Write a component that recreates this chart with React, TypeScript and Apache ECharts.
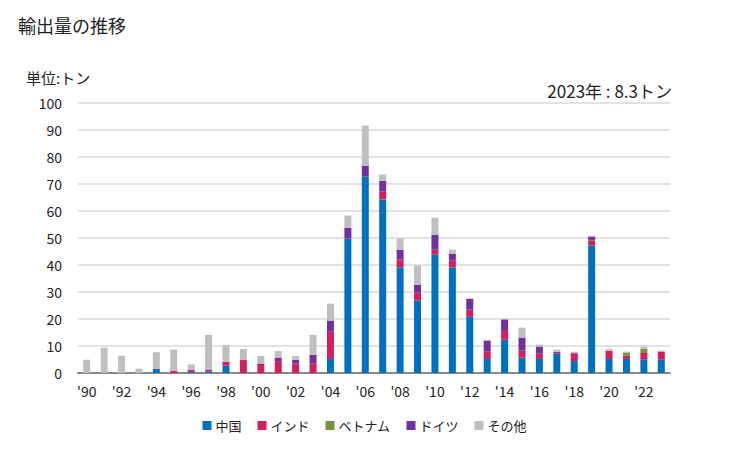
import React, { useEffect, useRef } from "react";
import * as echarts from "echarts";

const years = [
  "'90", "'91", "'92", "'93", "'94", "'95", "'96", "'97", "'98", "'99",
  "'00", "'01", "'02", "'03", "'04", "'05", "'06", "'07", "'08", "'09",
  "'10", "'11", "'12", "'13", "'14", "'15", "'16", "'17", "'18", "'19",
  "'20", "'21", "'22", "'23",
];

const china = [
  0, 0, 0, 0, 1.6, 0, 0.4, 0.6, 2.7, 0,
  0, 0, 0, 0, 5.2, 49.8, 72.7, 64.3, 39.1, 26.8,
  43.8, 39.1, 20.8, 5.2, 12.3, 5.7, 5.2, 7.3, 4.4, 47.2,
  5.2, 5.2, 4.9, 4.9,
];
const india = [
  0, 0, 0, 0, 0, 0.8, 0.8, 0.7, 1.4, 4.8,
  3.0, 4.4, 3.5, 3.5, 10.1, 0, 0, 2.9, 3.0, 3.0,
  1.9, 2.5, 2.7, 2.7, 3.3, 2.6, 2.0, 0.6, 2.9, 1.7,
  3.0, 1.2, 2.5, 2.9,
];
const vietnam = [
  0, 0, 0, 0, 0, 0, 0, 0, 0, 0,
  0, 0, 0, 0, 0, 0, 0, 0, 0, 0,
  0, 0, 0, 0, 0, 0, 0, 0, 0, 0.4,
  0, 1.1, 1.5, 0.2,
];
const germany = [
  0, 0, 0, 0, 0, 0, 0, 0, 0, 0,
  0.5, 1.3, 1.4, 3.2, 4.1, 4.0, 4.1, 4.0, 3.6, 2.9,
  5.5, 2.6, 4.0, 4.1, 4.2, 4.8, 2.6, 0, 0.2, 1.2,
  0, 0, 0, 0,
];
const others = [
  4.9, 9.4, 6.4, 1.6, 6.1, 7.9, 2.0, 12.8, 6.3, 4.1,
  2.8, 2.4, 1.4, 7.4, 6.3, 4.5, 14.8, 2.3, 4.1, 7.2,
  6.3, 1.5, 0, 0.3, 0, 3.7, 0.7, 0.7, 0.4, 0.4,
  0.7, 0.4, 0.9, 0.3,
];

const seriesNames = ["中国", "インド", "ベトナム", "ドイツ", "その他"];
const seriesColors = ["#0070c0", "#d41f5f", "#76923c", "#7030a0", "#bfbfbf"];
const yTicks = [0, 10, 20, 30, 40, 50, 60, 70, 80, 90, 100];

const FONT = "'Noto Sans CJK JP', 'Noto Sans', sans-serif";

export default function App() {
  const ref = useRef<HTMLDivElement>(null);
  useEffect(() => {
    if (!ref.current) return;
    const chart = echarts.init(ref.current, null, { renderer: "svg" });
    const dataSets = [china, india, vietnam, germany, others];
    chart.setOption({
      animation: false,
      textStyle: { fontFamily: FONT },
      graphic: [
        {
          type: "text",
          left: 10,
          top: 8,
          style: { text: "輸出量の推移", fontSize: 18, fill: "#222", fontFamily: FONT },
        },
        {
          type: "text",
          left: 18,
          top: 62,
          style: { text: "単位:トン", fontSize: 15, fill: "#222", fontFamily: FONT },
        },
        {
          type: "text",
          right: 49,
          top: 74,
          style: { text: "2023年 : 8.3トン", fontSize: 17, fill: "#222", fontFamily: FONT },
        },
      ],
      legend: {
        bottom: 5,
        left: "center",
        itemWidth: 9,
        itemHeight: 9,
        itemGap: 16,
        icon: "rect",
        textStyle: { fontSize: 13, color: "#222", fontFamily: FONT, padding: [0, 0, 0, -1] },
        data: seriesNames,
      },
      grid: { left: 70, right: 51, top: 95, bottom: 69, containLabel: false },
      xAxis: {
        type: "category",
        data: years,
        axisLine: { lineStyle: { color: "#898989", width: 2 } },
        axisTick: { show: false },
        axisLabel: {
          interval: 1,
          color: "#222",
          fontSize: 14,
          margin: 11,
          fontFamily: FONT,
        },
      },
      yAxis: {
        type: "value",
        min: yTicks[0],
        max: yTicks[yTicks.length - 1],
        interval: 10,
        axisLine: { show: false },
        axisTick: { show: false },
        splitLine: { lineStyle: { color: "#d9d9d9", width: 1.5 } },
        axisLabel: { color: "#222", fontSize: 14, margin: 16, fontFamily: FONT },
      },
      series: seriesNames.map((name, i) => ({
        name,
        type: "bar",
        stack: "total",
        barWidth: 7,
        itemStyle: { color: seriesColors[i] },
        data: dataSets[i],
      })),
    });
    return () => chart.dispose();
  }, []);
  return <div ref={ref} style={{ width: 713, height: 434 }} />;
}
